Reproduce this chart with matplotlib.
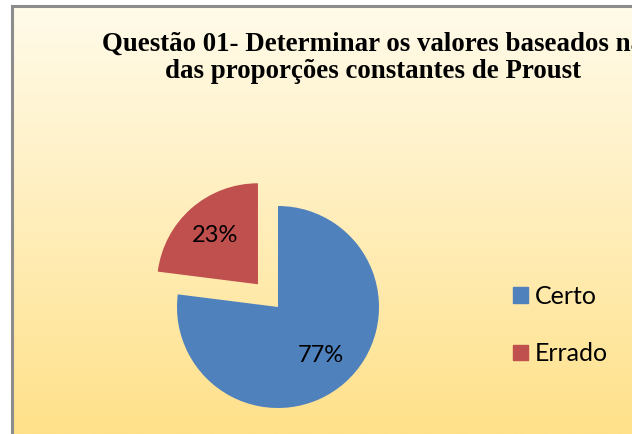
import matplotlib
matplotlib.use("Agg")
import matplotlib.pyplot as plt
import numpy as np
from matplotlib.colors import LinearSegmentedColormap
from matplotlib.lines import Line2D

# Data
categories = ["Certo", "Errado"]
values = [77, 23]
colors = ["#4F81BD", "#C0504D"]
title_text = "Questão 01- Determinar os valores baseados na\ndas proporções constantes de Proust"

W, H, DPI = 632, 434, 100
fig = plt.figure(figsize=(W / DPI, H / DPI), dpi=DPI)
fig.patch.set_facecolor("white")

# gradient background panel
bg = fig.add_axes([12 / W, 0, 1 - 12 / W, 1 - 6 / H])
grad = np.linspace(0, 1, 256).reshape(-1, 1)
cmap = LinearSegmentedColormap.from_list("gold", ["#FFFBEA", "#FFEEBB", "#FFE18A"])
bg.imshow(grad, aspect="auto", cmap=cmap, extent=[0, 1, 0, 1], origin="upper")
bg.set_xlim(0, 1)
bg.set_ylim(0, 1)
bg.axis("off")
# border lines (left and top)
fig.add_artist(Line2D([12 / W, 12 / W], [0, 1 - 6 / H], color="#8C8C8C", lw=2.2, transform=fig.transFigure))
fig.add_artist(Line2D([12 / W, 1], [1 - 6 / H, 1 - 6 / H], color="#8C8C8C", lw=2.2, transform=fig.transFigure))

# title (the reference itself is cut at the right edge)
fig.text(373 / W, 1 - 58 / H, title_text, ha="center", va="center",
         fontsize=19.4, fontweight="bold", family="Liberation Serif",
         linespacing=1.14, color="black")

# pie axes: center (278, 307), radius 101 px
cx, cy, r = 278, 307, 101
size = 2 * r * 1.0
ax = fig.add_axes([(cx - r) / W, 1 - (cy + r) / H, size / W, size / H])
ax.set_facecolor("none")
wedges, texts, autotexts = ax.pie(
    values, colors=colors, startangle=90, counterclock=False,
    explode=[0, 0.3], radius=1.0, autopct="%d%%", pctdistance=0.64,
    textprops=dict(fontsize=17, family="Lato", color="black"),
)
ax.set_xlim(-1, 1)
ax.set_ylim(-1, 1)
ax.set_aspect("equal")
ax.axis("off")

# legend
handles = [plt.Rectangle((0, 0), 1, 1, color=c) for c in colors]
leg = fig.legend(handles, categories, loc="center left",
                 bbox_to_anchor=(490 / W, 1 - 325 / H),
                 frameon=False, prop=dict(family="Lato", size=18),
                 handlelength=0.6, handleheight=0.6, handletextpad=0.3,
                 labelspacing=1.38)

fig.savefig("out.png", dpi=DPI)
